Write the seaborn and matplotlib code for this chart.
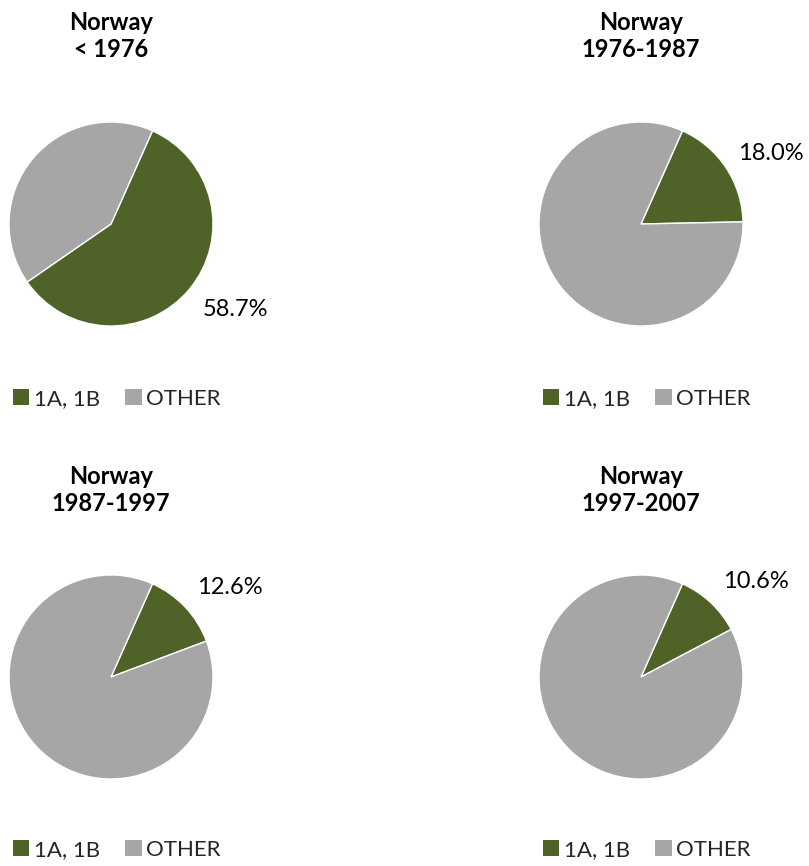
import matplotlib
matplotlib.use("Agg")
import matplotlib.pyplot as plt
import seaborn as sns
from matplotlib.patches import Patch

sns.set_theme(style="white")
plt.rcParams['font.family'] = ['Lato', 'DejaVu Sans']

titles = ["Norway\n< 1976", "Norway\n1976-1987", "Norway\n1987-1997", "Norway\n1997-2007"]
categories = ["1A, 1B", "OTHER"]
share_1a1b = [58.7, 18.0, 12.6, 10.6]
share_other = [41.3, 82.0, 87.4, 89.4]
colors = ["#4F6228", "#A6A6A6"]

W, H = 809, 866
fig = plt.figure(figsize=(W / 100, H / 100), dpi=100)
fig.patch.set_facecolor("white")

# layout (pixels)
centers = [(111, 224), (641, 224), (111, 677), (641, 677)]
title_y = [36, 36, 490, 490]
label_px = [(235, 309), (771, 154), (230, 587), (756, 581)]
legend_pos = [(12.5, 399), (542.5, 399), (12.5, 850), (542.5, 850)]
R = 102

for i, (cx, cy) in enumerate(centers):
    ax = fig.add_axes([(cx - R) / W, 1 - (cy + R) / H, 2 * R / W, 2 * R / H])
    wedges, texts, autotexts = ax.pie(
        [share_1a1b[i], share_other[i]],
        colors=colors,
        startangle=66,
        counterclock=False,
        autopct='%.1f%%',
        wedgeprops=dict(edgecolor='white', linewidth=1),
        textprops=dict(fontsize=17, color='#000000'),
    )
    autotexts[1].set_visible(False)
    lx, ly = label_px[i]
    autotexts[0].set_position(((lx - cx) / R, -(ly - cy) / R))
    autotexts[0].set_clip_on(False)
    ax.set_xlim(-1, 1)
    ax.set_ylim(-1, 1)
    ax.set_aspect('equal')
    ax.axis('off')

    fig.text(cx / W, 1 - title_y[i] / H, titles[i], ha='center', va='center',
             fontweight='bold', fontsize=17, color='#000000', linespacing=1.2)

    handles = [Patch(facecolor=c, edgecolor='none') for c in colors]
    gx, gy = legend_pos[i]
    fig.legend(handles, categories, loc='center left',
               bbox_to_anchor=(gx / W, 1 - gy / H), ncol=2, frameon=False,
               fontsize=16, handlelength=0.75, handleheight=0.75,
               handletextpad=0.2, columnspacing=1.15, borderpad=0,
               borderaxespad=0)

fig.savefig("out.png", dpi=100, facecolor="white")
